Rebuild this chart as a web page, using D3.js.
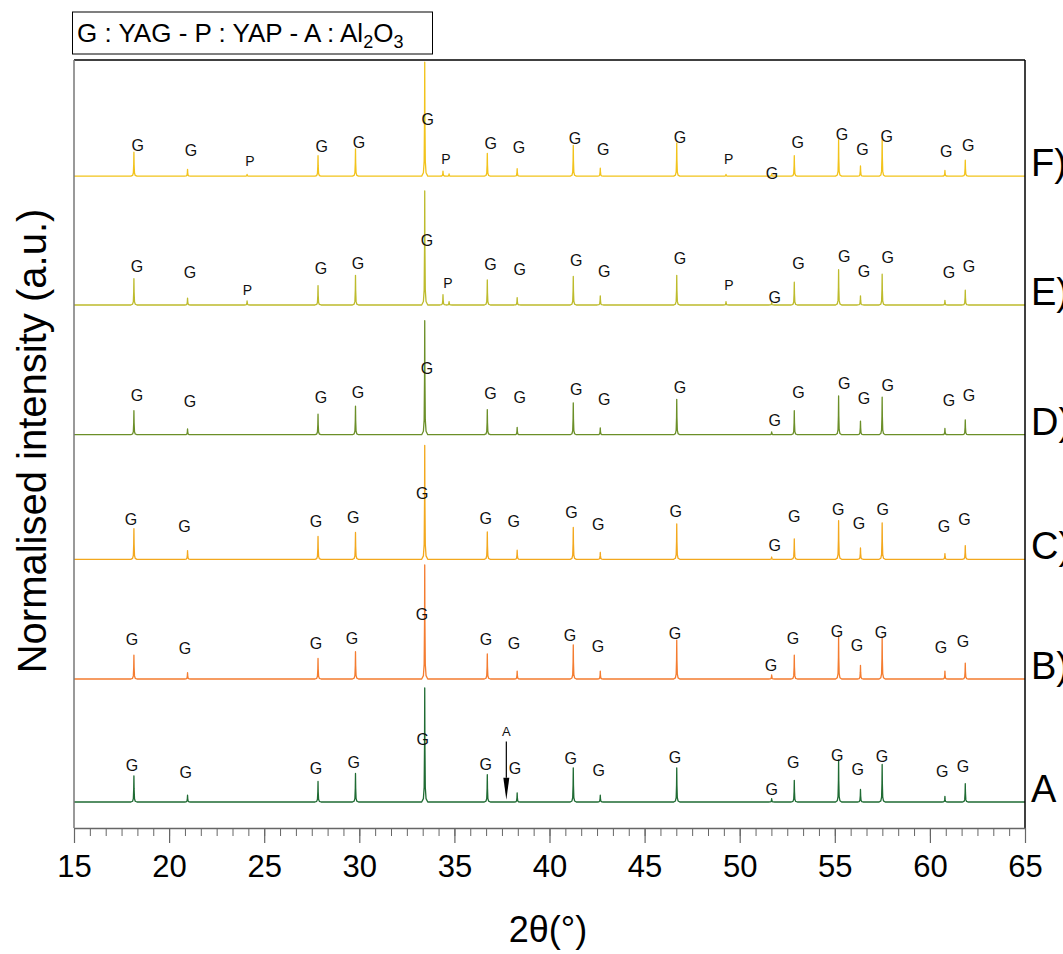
<!DOCTYPE html>
<html><head><meta charset="utf-8">
<script src="https://cdn.jsdelivr.net/npm/d3@7"></script>
<style>
body{margin:0;background:#fff}
svg{display:block;font-family:"Liberation Sans",Arial,sans-serif}
</style></head>
<body><svg id="c" width="1063" height="954"></svg>
<script>
// ---------- data ----------
const seriesNames = ["A", "B", "C", "D", "E", "F"];
const rightLabels = ["A", "B)", "C)", "D)", "E)", "F)"];
const seriesOffsets = [0, 1.079, 2.129, 3.222, 4.36, 5.49];
const seriesColors = ["#1f6b33", "#f47c30", "#f3a81d", "#6b8f28", "#bdbb2c", "#f2c31b"];
const xTicks = [15, 20, 25, 30, 35, 40, 45, 50, 55, 60, 65];

// YAG reflections (2θ) and normalised intensities per pattern
const yagPeaks = [18.15, 20.97, 27.83, 29.8, 33.44, 36.73, 38.3, 41.25, 42.67, 46.69, 51.68, 52.87, 55.2, 56.35, 57.49, 60.79, 61.86];
const intA = [0.23, 0.06, 0.18, 0.25, 1, 0.24, 0.08, 0.30, 0.06, 0.30, 0.03, 0.19, 0.37, 0.11, 0.33, 0.05, 0.16];
const intB = [0.21, 0.055, 0.18, 0.24, 1, 0.22, 0.07, 0.30, 0.07, 0.34, 0.035, 0.21, 0.38, 0.12, 0.37, 0.07, 0.14];
const intC = [0.27, 0.077, 0.20, 0.235, 1, 0.24, 0.08, 0.28, 0.06, 0.31, 0.02, 0.18, 0.34, 0.10, 0.32, 0.05, 0.12];
const intD = [0.21, 0.05, 0.18, 0.25, 1, 0.22, 0.065, 0.28, 0.06, 0.31, 0.025, 0.21, 0.34, 0.12, 0.33, 0.055, 0.13];
const intE = [0.23, 0.06, 0.17, 0.26, 1, 0.22, 0.065, 0.25, 0.08, 0.26, 0.02, 0.20, 0.31, 0.08, 0.27, 0.04, 0.13];
const intF = [0.21, 0.06, 0.18, 0.24, 1, 0.20, 0.065, 0.27, 0.07, 0.29, 0.02, 0.18, 0.32, 0.09, 0.34, 0.05, 0.14];

// YAP reflections (only in E and F)
const yapPeaks = [24.1, 34.4, 34.72, 49.28];
const yapIntE = [0.035, 0.09, 0.03, 0.03];
const yapIntF = [0.015, 0.045, 0.02, 0.015];

// Al2O3 marker on pattern A
const aluminaPos = 37.73;
const aluminaArrow = [0.53, 0.02];
const aluminaLabel = 0.62;

// peak label positions (2θ, height above pattern baseline)
const gLabelXA = [18.05, 20.87, 27.72, 29.71, 33.33, 36.65, 38.18, 41.12, 42.59, 46.6, 51.68, 52.82, 55.13, 56.2, 57.48, 60.65, 61.74];
const gLabelYA = [0.32, 0.26, 0.30, 0.35, 0.55, 0.33, 0.30, 0.38, 0.28, 0.39, 0.11, 0.35, 0.41, 0.29, 0.40, 0.27, 0.31];
const gLabelXB = [18.05, 20.84, 27.72, 29.62, 33.3, 36.66, 38.13, 41.08, 42.55, 46.6, 51.65, 52.8, 55.12, 56.17, 57.43, 60.58, 61.74];
const gLabelYB = [0.345, 0.27, 0.31, 0.36, 0.57, 0.345, 0.31, 0.38, 0.29, 0.40, 0.12, 0.36, 0.42, 0.30, 0.41, 0.28, 0.33];
const gLabelXC = [17.99, 20.81, 27.72, 29.68, 33.31, 36.65, 38.12, 41.15, 42.56, 46.64, 51.84, 52.87, 55.18, 56.27, 57.52, 60.74, 61.82];
const gLabelYC = [0.35, 0.29, 0.33, 0.37, 0.58, 0.36, 0.33, 0.41, 0.31, 0.42, 0.12, 0.38, 0.44, 0.32, 0.435, 0.29, 0.35];
const gLabelXD = [18.31, 21.10, 27.98, 29.93, 33.56, 36.90, 38.44, 41.40, 42.88, 46.86, 51.84, 53.09, 55.50, 56.53, 57.78, 61.0, 62.05];
const gLabelYD = [0.35, 0.29, 0.33, 0.37, 0.585, 0.36, 0.33, 0.40, 0.31, 0.415, 0.13, 0.37, 0.45, 0.32, 0.43, 0.30, 0.35];
const gLabelXE = [18.31, 21.10, 27.98, 29.93, 33.56, 36.90, 38.44, 41.40, 42.88, 46.86, 51.84, 53.09, 55.50, 56.53, 57.78, 61.0, 62.05];
const gLabelYE = [0.34, 0.29, 0.32, 0.37, 0.57, 0.36, 0.31, 0.39, 0.30, 0.41, 0.07, 0.37, 0.43, 0.30, 0.42, 0.29, 0.34];
const gLabelXF = [18.35, 21.15, 28.02, 29.98, 33.6, 36.91, 38.4, 41.34, 42.83, 46.86, 51.7, 53.05, 55.38, 56.45, 57.73, 60.86, 62.02];
const gLabelYF = [0.27, 0.23, 0.26, 0.30, 0.50, 0.29, 0.25, 0.33, 0.24, 0.34, 0.03, 0.30, 0.37, 0.24, 0.35, 0.22, 0.27];
const pLabelXE = [24.12, 34.66, 49.43];
const pLabelYE = [0.13, 0.19, 0.18];
const pLabelXF = [24.25, 34.56, 49.42];
const pLabelYF = [0.13, 0.15, 0.15];

// ---------- build tables ----------
const yagInts = [intA, intB, intC, intD, intE, intF];
const yapInts = [null, null, null, null, yapIntE, yapIntF];
const gLX = [gLabelXA, gLabelXB, gLabelXC, gLabelXD, gLabelXE, gLabelXF];
const gLY = [gLabelYA, gLabelYB, gLabelYC, gLabelYD, gLabelYE, gLabelYF];
const pLX = [null, null, null, null, pLabelXE, pLabelXF];
const pLY = [null, null, null, null, pLabelYE, pLabelYF];

// peak profile shape (relative offsets in 2θ and fraction of height) – styling
const shapeDx = [-0.16, -0.07, -0.03, -0.01, 0, 0.01, 0.03, 0.07, 0.16];
const shapeFr = [0, 0.03, 0.13, 0.5, 1, 0.5, 0.13, 0.03, 0];

const svg = d3.select("#c");
const m = {left: 74, right: 1025, top: 60, bottom: 828};

const x = d3.scaleLinear().domain([15, 65]).range([m.left, m.right]);
const y = d3.scaleLinear().domain([-0.228, 6.509]).range([m.bottom, m.top]);

function profile(i) {
  const peaks = yagPeaks.map((p, k) => [p, yagInts[i][k]]);
  if (yapInts[i]) yapPeaks.forEach((p, k) => peaks.push([p, yapInts[i][k]]));
  peaks.sort((a, b) => a[0] - b[0]);
  const pts = [[15, 0]];
  peaks.forEach(([p, h]) => shapeDx.forEach((d, j) => pts.push([p + d, h * shapeFr[j]])));
  pts.push([65, 0]);
  return pts;
}

seriesNames.forEach((name, i) => {
  const off = seriesOffsets[i];
  svg.append("path")
    .datum(profile(i))
    .attr("fill", "none")
    .attr("stroke", seriesColors[i])
    .attr("stroke-width", 1.3)
    .attr("stroke-linejoin", "round")
    .attr("d", d3.line().x(d => x(d[0])).y(d => y(d[1] + off)));

  const g = svg.append("g").attr("font-size", 16).attr("fill", "#111").attr("text-anchor", "middle");
  gLX[i].forEach((lx, k) => {
    g.append("text").attr("x", x(lx)).attr("y", y(off + gLY[i][k])).attr("dy", "0.36em").text("G");
  });
  if (pLX[i]) pLX[i].forEach((lx, k) => {
    g.append("text").attr("font-size", 14).attr("x", x(lx)).attr("y", y(off + pLY[i][k])).attr("dy", "0.36em").text("P");
  });

  svg.append("text")
    .attr("x", 1031).attr("y", y(off + 0.12)).attr("dy", "0.36em")
    .attr("font-size", 38).attr("fill", "#000")
    .text(rightLabels[i]);
});

// alumina arrow
svg.append("line")
  .attr("x1", x(aluminaPos)).attr("x2", x(aluminaPos))
  .attr("y1", y(seriesOffsets[0] + aluminaArrow[0]))
  .attr("y2", y(seriesOffsets[0] + aluminaArrow[1]) - 22)
  .attr("stroke", "#000").attr("stroke-width", 1.2);
svg.append("path")
  .attr("d", `M${x(aluminaPos) - 3},${y(aluminaArrow[1]) - 22} L${x(aluminaPos) + 3},${y(aluminaArrow[1]) - 22} L${x(aluminaPos)},${y(aluminaArrow[1])} Z`)
  .attr("fill", "#000");
svg.append("text").attr("x", x(aluminaPos)).attr("y", y(aluminaLabel)).attr("dy", "0.36em")
  .attr("text-anchor", "middle").attr("font-size", 13).attr("fill", "#111").text("A");

// frame
svg.append("line").attr("x1", m.left).attr("x2", m.right).attr("y1", m.top).attr("y2", m.top).attr("stroke", "#000").attr("stroke-width", 1.5);
svg.append("line").attr("x1", m.right).attr("x2", m.right).attr("y1", m.top).attr("y2", m.bottom).attr("stroke", "#000").attr("stroke-width", 1.5);
svg.append("line").attr("x1", m.left).attr("x2", m.left).attr("y1", m.top).attr("y2", m.bottom).attr("stroke", "#777").attr("stroke-width", 1.5);

// x axis
const minorVals = d3.range(0, 61).map(k => 15 + k * 5 / 6);
const axMinor = svg.append("g").attr("transform", `translate(0,${m.bottom})`)
  .call(d3.axisBottom(x).tickValues(minorVals).tickSize(8).tickFormat(""));
axMinor.select(".domain").remove();
axMinor.selectAll("line").attr("stroke", "#666").attr("stroke-width", 1);
const axMajor = svg.append("g").attr("transform", `translate(0,${m.bottom})`)
  .call(d3.axisBottom(x).tickValues(xTicks).tickSize(15).tickSizeOuter(0).tickPadding(12).tickFormat(d3.format("d")));
axMajor.select(".domain").attr("stroke", "#666").attr("stroke-width", 1.5);
axMajor.selectAll("line").attr("stroke", "#666").attr("stroke-width", 1.2);
axMajor.selectAll("text").attr("font-size", 31).attr("fill", "#000").attr("font-family", "Liberation Sans, Arial, sans-serif");

// axis titles
svg.append("text").attr("x", 548).attr("y", 942).attr("text-anchor", "middle")
  .attr("font-size", 36).attr("fill", "#000").text("2θ(°)");
svg.append("text").attr("transform", "translate(46,441) rotate(-90)").attr("text-anchor", "middle")
  .attr("font-size", 40).attr("fill", "#000").text("Normalised intensity (a.u.)");

// legend box
svg.append("rect").attr("x", 72.5).attr("y", 12).attr("width", 360).attr("height", 42)
  .attr("fill", "#fff").attr("stroke", "#000").attr("stroke-width", 1);
const lt = svg.append("text").attr("x", 77).attr("y", 42).attr("font-size", 26).attr("fill", "#000");
lt.append("tspan").text("G : YAG - P : YAP - A : Al");
lt.append("tspan").attr("font-size", 18).attr("dy", 6).text("2");
lt.append("tspan").attr("dy", -6).text("O");
lt.append("tspan").attr("font-size", 18).attr("dy", 6).text("3");
</script>
</body></html>
